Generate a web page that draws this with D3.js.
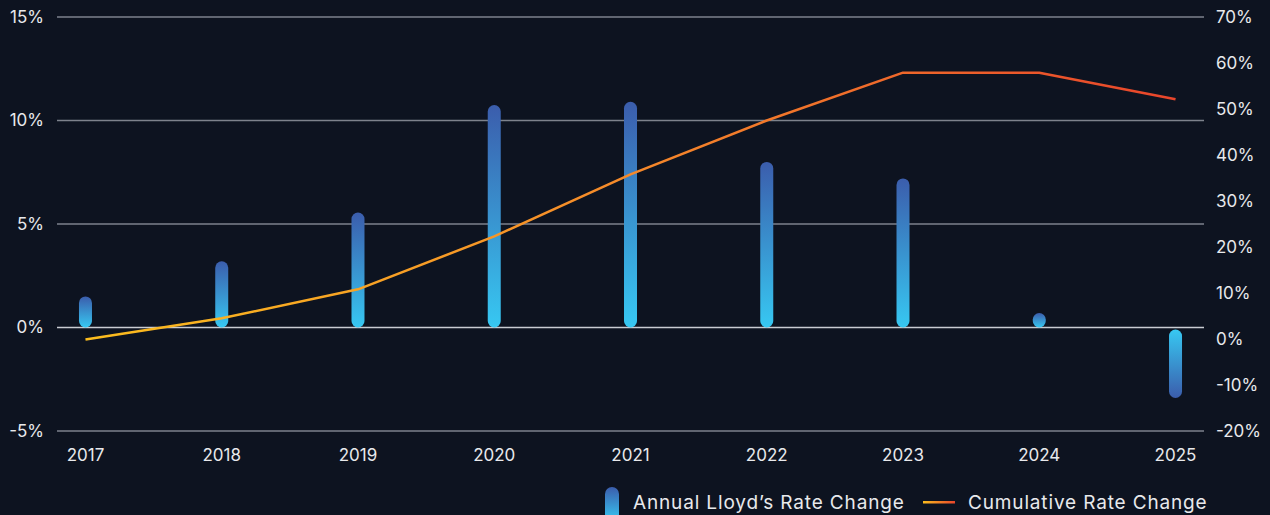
<!DOCTYPE html>
<html><head><meta charset="utf-8">
<script src="https://cdn.jsdelivr.net/npm/d3@7"></script>
<style>
html,body{margin:0;padding:0;background:#0d1320;}
svg{display:block;font-family:Inter,"Open Sans",sans-serif;}
</style></head>
<body><svg id="c" width="1270" height="515"></svg>
<script>
const years = ["2017","2018","2019","2020","2021","2022","2023","2024","2025"];
const annualChange = [1.5, 3.2, 5.55, 10.75, 10.9, 8.0, 7.2, 0.7, -3.4];
const cumulativeChange = [-0.1, 4.5, 10.8, 22.3, 35.8, 47.5, 57.9, 57.9, 52.1];
const leftTicks = [-5, 0, 5, 10, 15];
const rightTicks = [-20, -10, 0, 10, 20, 30, 40, 50, 60, 70];
const legendLabels = ["Annual Lloyd\u2019s Rate Change", "Cumulative Rate Change"];

const svg = d3.select("#c");
const W = 1270, H = 515;
svg.append("rect").attr("width", W).attr("height", H).attr("fill", "#0d1320");

const plotL = 57, plotR = 1204, plotT = 17, plotB = 431;
const x = d3.scalePoint().domain(years).range([plotL, plotR]).padding(0.209);
const yL = d3.scaleLinear().domain([-5, 15]).range([plotB, plotT]);
const yR = d3.scaleLinear().domain([-20, 70]).range([plotB, plotT]);

const defs = svg.append("defs");
const gUp = defs.append("linearGradient").attr("id", "barUp").attr("x1", 0).attr("y1", 1).attr("x2", 0).attr("y2", 0);
gUp.append("stop").attr("offset", 0).attr("stop-color", "#37c8f2");
gUp.append("stop").attr("offset", 1).attr("stop-color", "#3b5dac");
const gDn = defs.append("linearGradient").attr("id", "barDn").attr("x1", 0).attr("y1", 0).attr("x2", 0).attr("y2", 1);
gDn.append("stop").attr("offset", 0).attr("stop-color", "#37c8f2");
gDn.append("stop").attr("offset", 1).attr("stop-color", "#3b5dac");
const gLine = defs.append("linearGradient").attr("id", "lineG").attr("gradientUnits", "userSpaceOnUse")
  .attr("x1", x(years[0])).attr("y1", 0).attr("x2", x(years[years.length-1])).attr("y2", 0);
gLine.append("stop").attr("offset", 0).attr("stop-color", "#fbbd1e");
gLine.append("stop").attr("offset", 0.5).attr("stop-color", "#f5892a");
gLine.append("stop").attr("offset", 1).attr("stop-color", "#e8452b");
const gLeg = defs.append("linearGradient").attr("id", "legG").attr("x1", 0).attr("y1", 0).attr("x2", 1).attr("y2", 0);
gLeg.append("stop").attr("offset", 0).attr("stop-color", "#fbbd1e");
gLeg.append("stop").attr("offset", 1).attr("stop-color", "#e8452b");
const gLegBar = defs.append("linearGradient").attr("id", "legBar").attr("x1", 0).attr("y1", 0).attr("x2", 0).attr("y2", 1);
gLegBar.append("stop").attr("offset", 0).attr("stop-color", "#3b5dac");
gLegBar.append("stop").attr("offset", 1).attr("stop-color", "#37c8f2");

// grid
svg.append("g").selectAll("line").data(leftTicks).join("line")
  .attr("x1", plotL).attr("x2", plotR)
  .attr("y1", d => yL(d)).attr("y2", d => yL(d))
  .attr("stroke", d => d === 0 ? "#c9ccd2" : "#7d828c")
  .attr("stroke-width", 1.5);

const fs = 17;
// left labels
svg.append("g").selectAll("text").data(leftTicks).join("text")
  .attr("x", 44).attr("y", d => yL(d)).attr("dy", "0.35em")
  .attr("text-anchor", "end").attr("fill", "#e8e9ec").attr("font-size", fs)
  .text(d => d + "%");
// right labels
svg.append("g").selectAll("text").data(rightTicks).join("text")
  .attr("x", 1216).attr("y", d => yR(d)).attr("dy", "0.35em")
  .attr("text-anchor", "start").attr("fill", "#e8e9ec").attr("font-size", fs)
  .text(d => d + "%");
// x labels
svg.append("g").selectAll("text").data(years).join("text")
  .attr("x", d => x(d)).attr("y", 455).attr("dy", "0.35em")
  .attr("text-anchor", "middle").attr("fill", "#e8e9ec").attr("font-size", fs)
  .text(d => d);

// bars
const bw = 13;
svg.append("g").selectAll("rect").data(years).join("rect")
  .attr("x", d => x(d) - bw/2)
  .attr("y", (d, i) => Math.min(yL(annualChange[i]), yL(0)) + (annualChange[i] < 0 ? 2 : 0))
  .attr("width", bw)
  .attr("height", (d, i) => Math.max(bw + 1, Math.abs(yL(annualChange[i]) - yL(0)) - (annualChange[i] < 0 ? 2 : 0)))
  .attr("rx", bw/2).attr("ry", bw/2)
  .attr("fill", (d, i) => annualChange[i] < 0 ? "url(#barDn)" : "url(#barUp)");

// line
const line = d3.line().x((d, i) => x(years[i])).y(d => yR(d));
svg.append("path").datum(cumulativeChange)
  .attr("d", line).attr("fill", "none")
  .attr("stroke", "url(#lineG)").attr("stroke-width", 2.5)
  .attr("stroke-linejoin", "round");

// legend
const leg = svg.append("g");
leg.append("rect").attr("x", 605).attr("y", 487).attr("width", 14).attr("height", 34)
  .attr("rx", 7).attr("fill", "url(#legBar)");
leg.append("text").attr("x", 633).attr("y", 502).attr("dy", "0.35em")
  .attr("fill", "#e8e9ec").attr("font-size", 19).attr("letter-spacing", 0.85).text(legendLabels[0]);
leg.append("rect").attr("x", 923).attr("y", 501).attr("width", 32).attr("height", 2.5)
  .attr("fill", "url(#legG)");
leg.append("text").attr("x", 968).attr("y", 502).attr("dy", "0.35em")
  .attr("fill", "#e8e9ec").attr("font-size", 19).attr("letter-spacing", 0.85).text(legendLabels[1]);
</script></body></html>
